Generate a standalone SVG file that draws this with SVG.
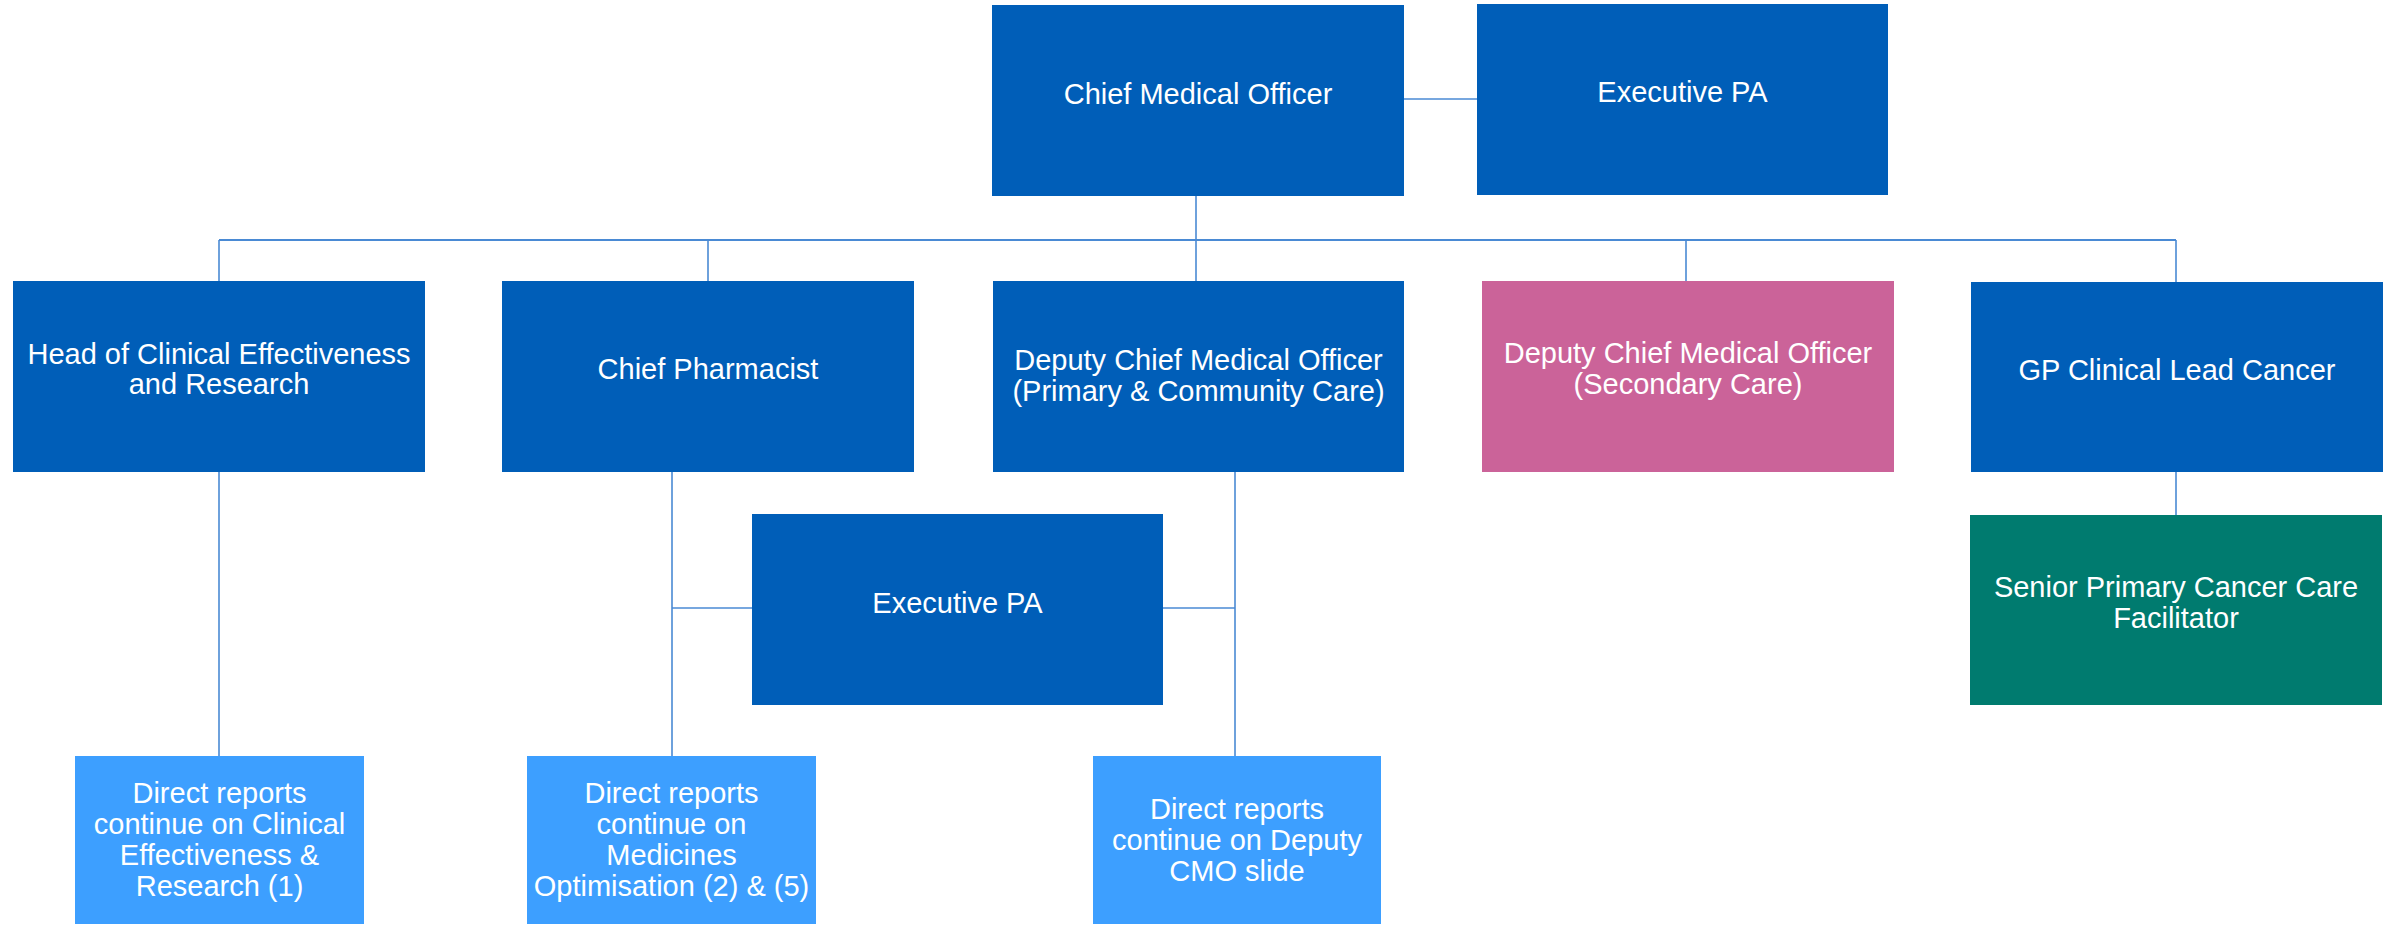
<svg xmlns="http://www.w3.org/2000/svg" width="2392" height="925" viewBox="0 0 2392 925">
<style>
.blue{fill:#005EB8}
.pink{fill:#CB6399}
.green{fill:#007B6F}
.light{fill:#3D9FFF}
text{font-family:"Liberation Sans",Arial,sans-serif;font-size:29px;fill:#FFFFFF;text-anchor:middle}
.conn line{stroke:#4A8AD4;stroke-width:1.6;fill:none}
</style>
<rect width="2392" height="925" fill="#FFFFFF"/>
<g id="connectors" class="conn">
<line x1="1404" y1="99" x2="1477" y2="99"/>
<line x1="1196" y1="196" x2="1196" y2="281"/>
<line x1="219" y1="240" x2="2176" y2="240" style="stroke-width:2"/>
<line x1="219" y1="240" x2="219" y2="281"/>
<line x1="708" y1="240" x2="708" y2="281"/>
<line x1="1686" y1="240" x2="1686" y2="282"/>
<line x1="2176" y1="240" x2="2176" y2="282"/>
<line x1="219" y1="472" x2="219" y2="756"/>
<line x1="672" y1="472" x2="672" y2="756"/>
<line x1="1235" y1="472" x2="1235" y2="756"/>
<line x1="672" y1="608" x2="752" y2="608"/>
<line x1="1163" y1="608" x2="1235" y2="608"/>
<line x1="2176" y1="472" x2="2176" y2="515"/>
</g>
<g id="cmo"><rect class="blue" x="992" y="5" width="412" height="191"/><text x="1198" y="104">Chief Medical Officer</text></g>
<g id="exec-pa-top"><rect class="blue" x="1477" y="4" width="411" height="191"/><text x="1682.5" y="102">Executive PA</text></g>
<g id="head-clinical"><rect class="blue" x="13" y="281" width="412" height="191"/><text x="219" y="364">Head of Clinical Effectiveness</text><text x="219" y="394">and Research</text></g>
<g id="chief-pharmacist"><rect class="blue" x="502" y="281" width="412" height="191"/><text x="708" y="379">Chief Pharmacist</text></g>
<g id="deputy-primary"><rect class="blue" x="993" y="281" width="411" height="191"/><text x="1198.5" y="370">Deputy Chief Medical Officer</text><text x="1198.5" y="401">(Primary &amp; Community Care)</text></g>
<g id="deputy-secondary"><rect class="pink" x="1482" y="281" width="412" height="191"/><text x="1688" y="363">Deputy Chief Medical Officer</text><text x="1688" y="394">(Secondary Care)</text></g>
<g id="gp-lead"><rect class="blue" x="1971" y="282" width="412" height="190"/><text x="2177" y="380">GP Clinical Lead Cancer</text></g>
<g id="exec-pa-mid"><rect class="blue" x="752" y="514" width="411" height="191"/><text x="957.5" y="613">Executive PA</text></g>
<g id="senior-facilitator"><rect class="green" x="1970" y="515" width="412" height="190"/><text x="2176" y="597">Senior Primary Cancer Care</text><text x="2176" y="628">Facilitator</text></g>
<g id="dr-clinical"><rect class="light" x="75" y="756" width="289" height="168"/><text x="219.5" y="803">Direct reports</text><text x="219.5" y="834">continue on Clinical</text><text x="219.5" y="865">Effectiveness &amp;</text><text x="219.5" y="896">Research (1)</text></g>
<g id="dr-medicines"><rect class="light" x="527" y="756" width="289" height="168"/><text x="671.5" y="803">Direct reports</text><text x="671.5" y="834">continue on</text><text x="671.5" y="865">Medicines</text><text x="671.5" y="896">Optimisation (2) &amp; (5)</text></g>
<g id="dr-deputy"><rect class="light" x="1093" y="756" width="288" height="168"/><text x="1237" y="819">Direct reports</text><text x="1237" y="850">continue on Deputy</text><text x="1237" y="881">CMO slide</text></g>
</svg>
